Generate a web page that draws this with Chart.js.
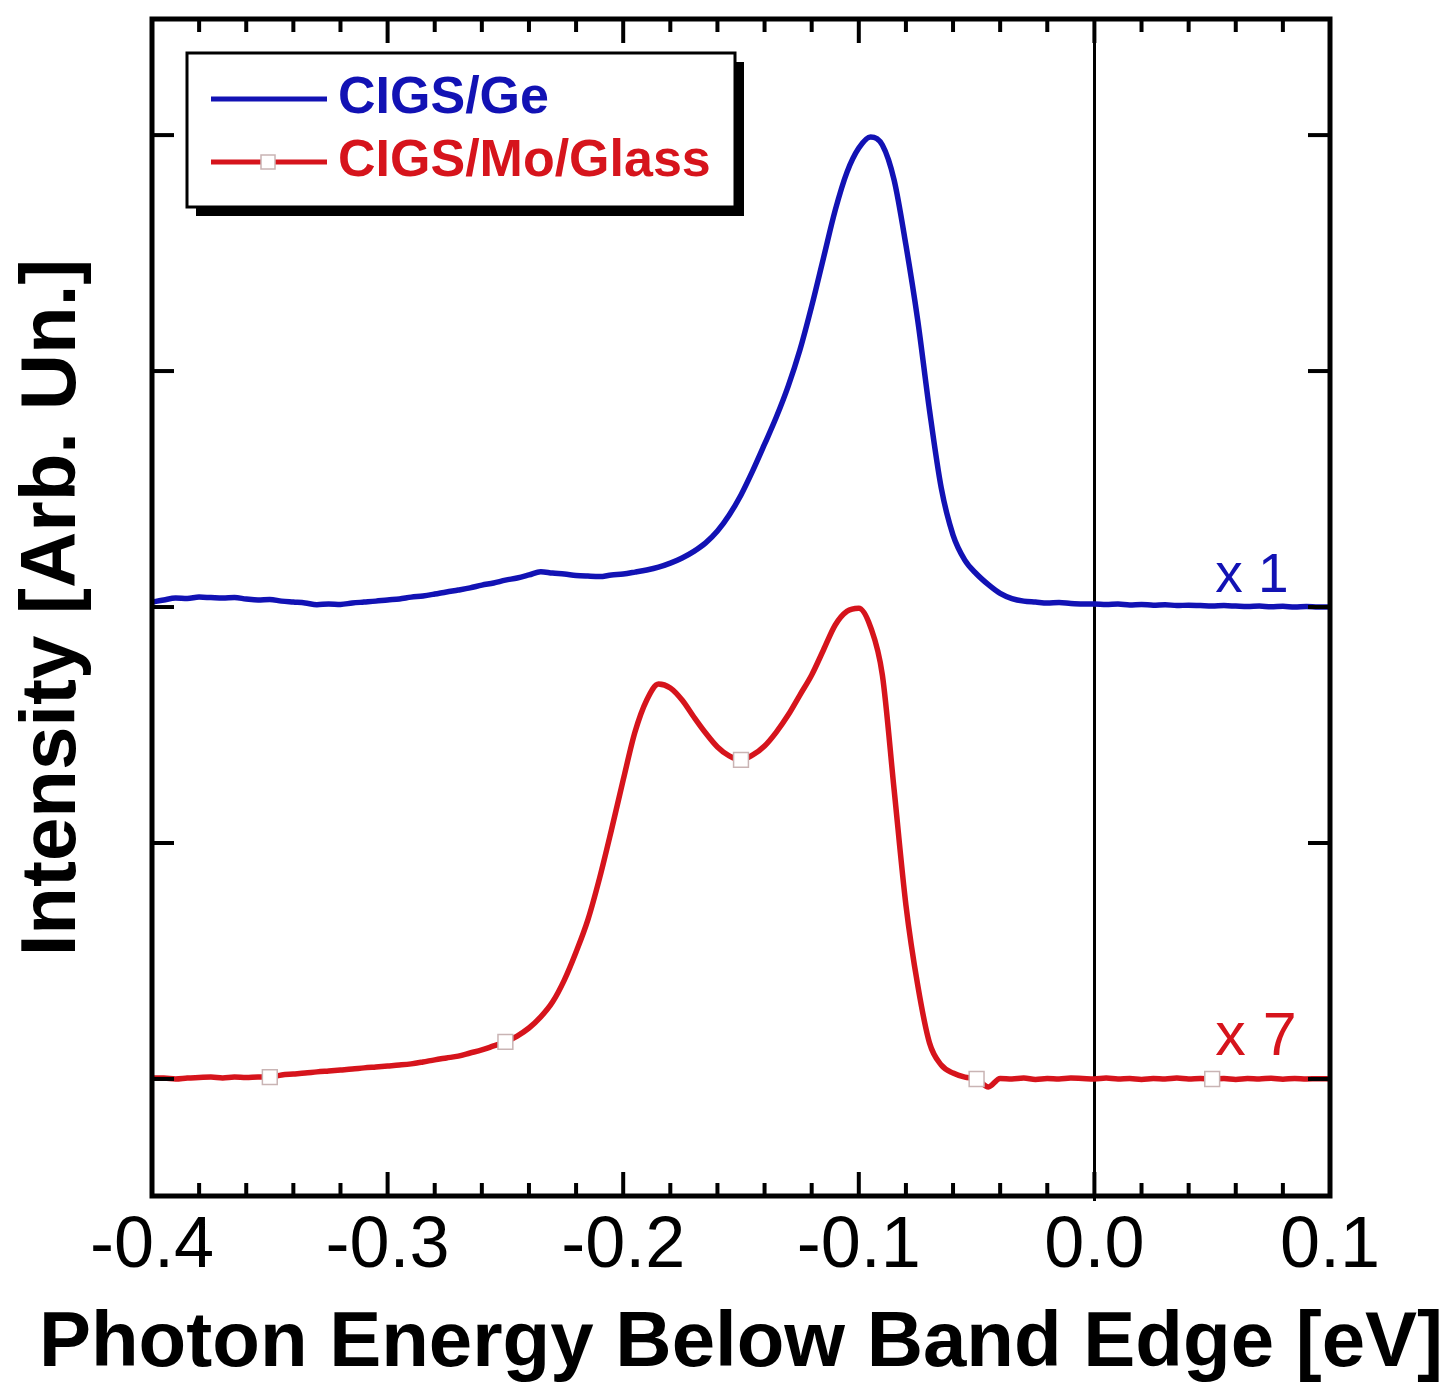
<!DOCTYPE html>
<html><head><meta charset="utf-8">
<script src="https://cdn.jsdelivr.net/npm/chart.js@4.4.0/dist/chart.umd.min.js"></script>
<style>html,body{margin:0;padding:0;background:#fff}#wrap{width:1453px;height:1392px;position:relative}</style>
</head><body><div id="wrap"><canvas id="c"></canvas></div>
<script>
const energies = [
-0.4,-0.395,-0.39,-0.385,-0.38,-0.375,-0.37,-0.365,-0.36,-0.355,
-0.35,-0.345,-0.34,-0.335,-0.33,-0.325,-0.32,-0.315,-0.31,-0.305,
-0.3,-0.295,-0.29,-0.285,-0.28,-0.275,-0.27,-0.265,-0.26,-0.255,
-0.25,-0.245,-0.24,-0.235,-0.23,-0.225,-0.22,-0.215,-0.21,-0.205,
-0.2,-0.195,-0.19,-0.185,-0.18,-0.175,-0.17,-0.165,-0.16,-0.155,
-0.15,-0.145,-0.14,-0.135,-0.13,-0.125,-0.12,-0.115,-0.11,-0.105,
-0.1,-0.095,-0.09,-0.085,-0.08,-0.075,-0.07,-0.065,-0.06,-0.055,
-0.05,-0.045,-0.04,-0.035,-0.03,-0.025,-0.02,-0.015,-0.01,-0.005,
0,0.005,0.01,0.015,0.02,0.025,0.03,0.035,0.04,0.045,
0.05,0.055,0.06,0.065,0.07,0.075,0.08,0.085,0.09,0.095,
0.1];
const cigsGe = [
2.021,2.030,2.038,2.036,2.042,2.040,2.038,2.040,2.034,2.030,
2.032,2.025,2.021,2.017,2.010,2.013,2.011,2.017,2.021,2.025,
2.030,2.034,2.042,2.047,2.055,2.064,2.072,2.081,2.093,2.102,
2.114,2.123,2.136,2.150,2.144,2.140,2.134,2.131,2.129,2.136,
2.140,2.148,2.157,2.169,2.186,2.208,2.236,2.272,2.322,2.390,
2.475,2.578,2.690,2.805,2.935,3.089,3.275,3.479,3.682,3.843,
3.945,3.992,3.958,3.809,3.534,3.216,2.835,2.504,2.305,2.199,
2.140,2.095,2.058,2.036,2.025,2.021,2.017,2.019,2.015,2.013,
2.013,2.011,2.013,2.009,2.011,2.008,2.010,2.006,2.008,2.006,
2.004,2.006,2.004,2.002,2.004,2.001,2.003,2.000,2.002,2.000,
2.000];
const cigsMoGlass = [
0.004,0.004,0.000,0.004,0.006,0.008,0.004,0.008,0.006,0.008,
0.008,0.017,0.021,0.025,0.030,0.034,0.038,0.042,0.047,0.051,
0.055,0.059,0.064,0.072,0.081,0.089,0.097,0.110,0.123,0.140,
0.157,0.182,0.216,0.263,0.326,0.419,0.538,0.674,0.852,1.055,
1.267,1.470,1.606,1.674,1.657,1.606,1.534,1.466,1.407,1.369,
1.352,1.373,1.411,1.470,1.542,1.627,1.712,1.818,1.924,1.982,
1.995,1.915,1.712,1.225,0.737,0.398,0.153,0.059,0.025,0.008,
0.000,-0.034,0.002,0.000,0.004,-0.002,0.002,0.000,0.004,0.002,
0.000,0.004,0.000,0.002,-0.002,0.002,0.000,0.004,0.000,0.002,
0.000,0.002,-0.002,0.002,0.000,0.003,-0.001,0.002,0.000,0.001,
0.000];
const markerEnergies = [-0.35,-0.25,-0.15,-0.05,0.05];
const xMajorTicks = [-0.4,-0.3,-0.2,-0.1,0.0,0.1];
const xMinorTicks = [-0.38,-0.36,-0.34,-0.32,-0.28,-0.26,-0.24,-0.22,-0.18,-0.16,-0.14,-0.12,-0.08,-0.06,-0.04,-0.02,0.02,0.04,0.06,0.08];
const yTicks = [0,1,2,3,4];
const seriesNames = ['CIGS/Ge','CIGS/Mo/Glass'];
const scaleFactors = ['x 1','x 7'];
const scaleBaselines = [2,0];
const xTitle = 'Photon Energy Below Band Edge [eV]';
const yTitle = 'Intensity [Arb. Un.]';

const FONT = "'Liberation Sans', Arial, Helvetica, sans-serif";
const BLUE = '#1212b4';
const RED = '#d6141c';

function isMarker(e){ return markerEnergies.some(m => Math.abs(m - e) < 1e-6); }

const decor = {
  id: 'decor',
  beforeDatasetsDraw(chart){
    const {ctx, chartArea:a, scales:{x}} = chart;
    ctx.save();
    ctx.strokeStyle = '#000'; ctx.lineWidth = 3;
    const x0 = Math.round(x.getPixelForValue(0)) + 0.5;
    ctx.beginPath(); ctx.moveTo(x0, a.top); ctx.lineTo(x0, a.bottom + 5); ctx.stroke();
    ctx.restore();
  },
  afterDatasetsDraw(chart){
    const {ctx, chartArea:a, scales:{x, y}} = chart;
    ctx.save();
    ctx.strokeStyle = '#000';
    ctx.lineWidth = 4;
    const tick = (px, len, top) => {
      ctx.beginPath();
      if (top) { ctx.moveTo(px, a.top); ctx.lineTo(px, a.top + len); }
      else { ctx.moveTo(px, a.bottom); ctx.lineTo(px, a.bottom - len); }
      ctx.stroke();
    };
    xMajorTicks.forEach(v => { const p = x.getPixelForValue(v); tick(p, 24, false); tick(p, 24, true); });
    xMinorTicks.forEach(v => { const p = x.getPixelForValue(v); tick(p, 13, false); tick(p, 13, true); });
    yTicks.forEach(v => {
      const p = y.getPixelForValue(v);
      ctx.beginPath(); ctx.moveTo(a.left, p); ctx.lineTo(a.left + 22, p); ctx.stroke();
      ctx.beginPath(); ctx.moveTo(a.right, p); ctx.lineTo(a.right - 22, p); ctx.stroke();
    });
    ctx.lineWidth = 5;
    ctx.strokeRect(a.left, a.top, a.right - a.left, a.bottom - a.top);

    // x axis title
    ctx.fillStyle = '#000';
    ctx.font = 'bold 78px ' + FONT;
    ctx.textAlign = 'center';
    ctx.textBaseline = 'alphabetic';
    ctx.fillText(xTitle, (a.left + a.right) / 2, 1366);

    // legend box
    const bx = 187, by = 53, bw = 548, bh = 154;
    ctx.fillStyle = '#000';
    ctx.fillRect(bx + 9, by + 9, bw, bh);
    ctx.fillStyle = '#fff';
    ctx.fillRect(bx, by, bw, bh);
    ctx.lineWidth = 3;
    ctx.strokeRect(bx, by, bw, bh);
    const colors = [BLUE, RED];
    const rows = [99, 162];
    ctx.lineWidth = 5;
    rows.forEach((ry, i) => {
      ctx.strokeStyle = colors[i];
      ctx.beginPath(); ctx.moveTo(211, ry); ctx.lineTo(327, ry); ctx.stroke();
      ctx.fillStyle = colors[i];
      ctx.font = 'bold 52px ' + FONT;
      ctx.textBaseline = 'middle';
      ctx.textAlign = 'left';
      ctx.fillText(seriesNames[i], 338, ry);
    });
    ctx.fillStyle = '#fff'; ctx.strokeStyle = '#c9b4b4'; ctx.lineWidth = 1.5;
    ctx.fillRect(261, 155, 14, 14); ctx.strokeRect(261, 155, 14, 14);

    // scale-factor labels
    ctx.textAlign = 'right';
    ctx.textBaseline = 'alphabetic';
    const xr = x.getPixelForValue(0.085);
    ctx.fillStyle = BLUE;
    ctx.font = '55px ' + FONT;
    ctx.fillText(scaleFactors[0], xr - 6, y.getPixelForValue(scaleBaselines[0]) - 15);
    ctx.fillStyle = RED;
    ctx.font = '61px ' + FONT;
    ctx.fillText(scaleFactors[1], xr + 2, y.getPixelForValue(scaleBaselines[1]) - 24);
    ctx.restore();
  }
};

new Chart(document.getElementById('c'), {
  type: 'line',
  data: {
    labels: energies,
    datasets: [
      {
        label: seriesNames[0],
        data: energies.map((e, i) => ({x: e, y: cigsGe[i]})),
        borderColor: BLUE, borderWidth: 5.5, pointRadius: 0,
        cubicInterpolationMode: 'monotone', fill: false
      },
      {
        label: seriesNames[1],
        data: energies.map((e, i) => ({x: e, y: cigsMoGlass[i]})),
        borderColor: RED, borderWidth: 5.5,
        pointRadius: ctx => isMarker(energies[ctx.dataIndex]) ? 10.5 : 0,
        pointStyle: 'rect',
        pointBackgroundColor: '#fff',
        pointBorderColor: '#c9b4b4',
        pointBorderWidth: 1.5,
        cubicInterpolationMode: 'monotone', fill: false
      }
    ]
  },
  options: {
    responsive: true, maintainAspectRatio: false, animation: false,
    devicePixelRatio: 1, events: [],
    layout: { padding: { top: 19, right: 123, left: 0, bottom: 0 } },
    plugins: { legend: { display: false }, tooltip: { enabled: false } },
    scales: {
      x: {
        type: 'linear', position: 'bottom', min: -0.4, max: 0.1,
        ticks: {
          stepSize: 0.1, autoSkip: false, maxRotation: 0, padding: 8, color: '#000',
          font: { family: FONT, size: 72, lineHeight: 1.2 },
          callback: v => Math.abs(v) < 1e-9 ? '0.0' : Number(v).toFixed(1)
        },
        grid: { display: false, drawTicks: false },
        border: { display: false },
        title: { display: false },
        afterFit(s) { s.height = 196; }
      },
      y: {
        type: 'linear', position: 'left', min: -0.496, max: 4.492,
        ticks: { display: false },
        grid: { display: false, drawTicks: false },
        border: { display: false },
        title: { display: true, text: yTitle, color: '#000',
          font: { family: FONT, size: 78, weight: 'bold', lineHeight: 1 },
          padding: { top: 14, bottom: 0 } },
        afterFit(s) { s.width = 152; }
      }
    }
  },
  plugins: [decor]
});
</script>
</body></html>
